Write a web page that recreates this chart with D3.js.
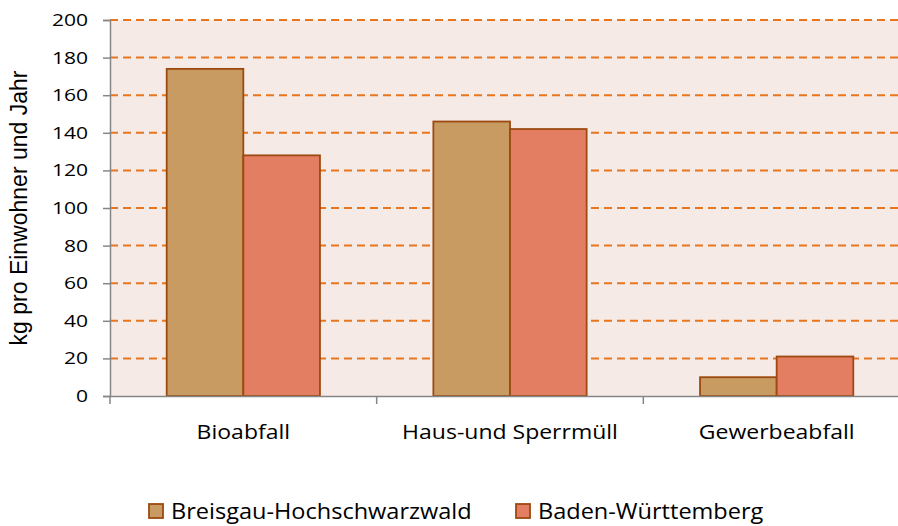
<!DOCTYPE html>
<html>
<head>
<meta charset="utf-8">
<script src="https://cdn.jsdelivr.net/npm/d3@7"></script>
<style>
  body { margin: 0; background: #fff; }
  text { font-family: "Open Sans", "Noto Sans", sans-serif; fill: #000; }
</style>
</head>
<body>
<figure style="margin:0"></figure>
<script>
const width = 898
const height = 526
const margin = { top: 20, right: -12, bottom: 130, left: 110 }

// Data
const categories = ['Bioabfall', 'Haus-und Sperrmüll', 'Gewerbeabfall']
const seriesNames = ['Breisgau-Hochschwarzwald', 'Baden-Württemberg']
const breisgau = [174, 146, 10]
const badenWuerttemberg = [128, 142, 21]
const yTicks = [0, 20, 40, 60, 80, 100, 120, 140, 160, 180, 200]

const colors = ['#c89b62', '#e47e63']
const strokeColor = '#9c4a10'

const svg = d3.select('figure').append('svg')
  .attr('width', width)
  .attr('height', height)

const x0 = margin.left
const x1 = width - margin.right
const y0 = height - margin.bottom
const y1 = margin.top

// Scales
const xScale = d3.scaleBand().domain(categories).range([x0, x1])
const xInner = d3.scaleBand().domain(seriesNames).range([0, xScale.bandwidth()]).paddingOuter(0.74).paddingInner(0)
const yScale = d3.scaleLinear().domain([0, 200]).range([y0, y1])

// plot background
svg.append('rect')
  .attr('x', x0).attr('y', y1)
  .attr('width', x1 - x0).attr('height', y0 - y1)
  .attr('fill', '#f5eae6')

// gridlines
svg.append('g').selectAll('line')
  .data(yTicks.filter(d => d > 0))
  .join('line')
    .attr('x1', x0).attr('x2', x1)
    .attr('y1', d => yScale(d)).attr('y2', d => yScale(d))
    .attr('stroke', '#e8761f')
    .attr('stroke-width', 2)
    .attr('stroke-dasharray', '8,5')

// bars
const rows = categories.map((c, i) => ({ cat: c, values: [breisgau[i], badenWuerttemberg[i]] }))
svg.append('g').selectAll('g')
  .data(rows)
  .join('g')
    .attr('transform', d => `translate(${xScale(d.cat)},0)`)
  .selectAll('rect')
  .data(d => d.values.map((v, j) => ({ name: seriesNames[j], value: v, j: j })))
  .join('rect')
    .attr('x', d => xInner(d.name))
    .attr('y', d => yScale(d.value))
    .attr('width', xInner.bandwidth())
    .attr('height', d => y0 - yScale(d.value))
    .attr('fill', d => colors[d.j])
    .attr('stroke', strokeColor)
    .attr('stroke-width', 1.8)

// Y axis
const yAxis = svg.append('g')
  .attr('transform', `translate(${x0},0)`)
  .call(d3.axisLeft(yScale).tickValues(yTicks).tickSize(7))
yAxis.select('.domain').attr('stroke', '#868686').attr('stroke-width', 1.5)
yAxis.selectAll('.tick line').attr('stroke', '#868686').attr('stroke-width', 1.5)
yAxis.selectAll('.tick text')
  .attr('x', 0)
  .attr('transform', 'translate(-22,0) scale(1.24,1)')
  .style('font-size', '17px')

// X axis
const xAxis = svg.append('g')
  .attr('transform', `translate(0,${y0})`)
  .call(d3.axisBottom(xScale).tickSize(0))
xAxis.select('.domain').attr('stroke', '#868686').attr('stroke-width', 1.5)
xAxis.selectAll('.tick text')
  .attr('y', 43).attr('dy', 0)
  .attr('transform', 'scale(1.15,1)')
  .style('font-size', '20px')
// category separators
xAxis.selectAll('.sep')
  .data(categories)
  .join('line')
    .attr('x1', d => xScale(d)).attr('x2', d => xScale(d))
    .attr('y1', 0).attr('y2', 8)
    .attr('stroke', '#868686').attr('stroke-width', 1.5)

// Y axis title
svg.append('text')
  .attr('transform', `translate(27,${(y0 + y1) / 2}) rotate(-90)`)
  .attr('text-anchor', 'middle')
  .style('font-family', '"Liberation Sans", Arial, sans-serif')
  .style('font-size', '23px')
  .text('kg pro Einwohner und Jahr')

// Legend
const legendX = [149, 516]
const legend = svg.append('g').selectAll('g')
  .data(seriesNames)
  .join('g')
    .attr('transform', (d, i) => `translate(${legendX[i]},504)`)
legend.append('rect')
  .attr('width', 14).attr('height', 14)
  .attr('fill', (d, i) => colors[i])
  .attr('stroke', strokeColor).attr('stroke-width', 1.8)
legend.append('text')
  .attr('x', 0).attr('y', 15)
  .attr('transform', 'translate(22,0) scale(1.07,1)')
  .style('font-size', '22px')
  .text(d => d)
</script>
</body>
</html>
